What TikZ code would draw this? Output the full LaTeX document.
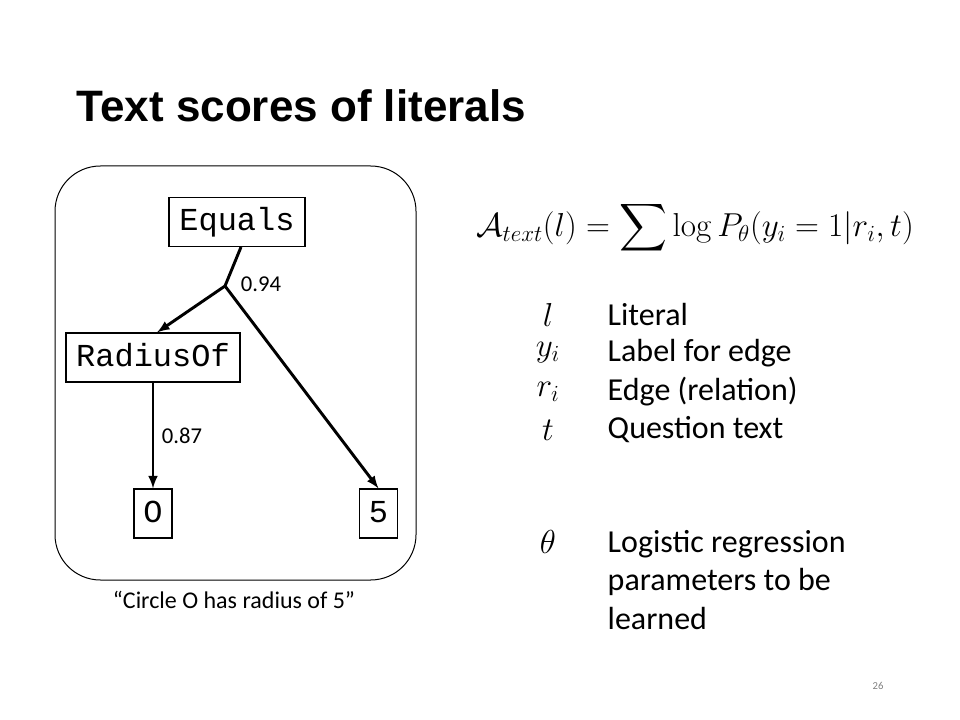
\documentclass[tikz,border=0pt]{standalone}
\usepackage{amsmath}
\usepackage[no-math]{fontspec}
\setmainfont{Carlito}
\setmonofont{Liberation Mono}
\newfontfamily\titlefont{Liberation Sans}
\usepackage{tikz}
\usepackage{xcolor}
\usetikzlibrary{positioning}
\tikzstyle{pred}=[draw, thick, inner sep=0pt, minimum height=36.75pt, text height=17pt, text depth=4pt, font=\ttfamily\fontsize{24}{28}\selectfont]
\tikzstyle{link}=[->, >=latex, line width=2.2pt]
\tikzstyle{score}=[font=\fontsize{17}{20}\selectfont]
\tikzstyle{sym}=[font=\fontsize{25}{30}\selectfont]
\tikzstyle{desc}=[anchor=west, font=\fontsize{24}{29}\selectfont]

\begin{document}
\begin{tikzpicture}[x=0.75pt, y=-0.75pt]
    \useasboundingbox (0,0) rectangle (960,720);

    \node[anchor=base west, font=\titlefont\bfseries\fontsize{33}{40}\selectfont] (title) at (72,122) {Text scores of literals};

    % parse tree
    \draw[line width=0.75pt, rounded corners=34pt] (55,166) rectangle (416,580);
    \node[pred, minimum width=102pt]  (equals)   at (237,222)   {Equals};
    \node[pred, minimum width=130.5pt] (radiusof) at (153,357.5) {RadiusOf};
    \node[pred, minimum width=28.5pt]  (circle)   at (153,513.5) {O};
    \node[pred, minimum width=29pt]    (five)     at (378.5,513.5) {5};
    \coordinate (fork) at (225,286);

    \draw[line width=2.2pt] ([xshift=3pt]equals.south) -- (fork);
    \draw[link] (fork) -- ([xshift=3pt]radiusof.north);
    \draw[link] (fork) -- (five.north);
    \draw[link] (radiusof) -- (circle);

    \node[score] (s1) at (261,284) {0.94};
    \node[score] (s2) at (182,436) {0.87};
    \node[font=\fontsize{18}{22}\selectfont] (caption) at (234,600) {“Circle O has radius of 5”};

    % score formula
    \node[font=\fontsize{25}{30}\selectfont] (formula) at (695,228)
        {$\displaystyle \mathcal{A}_{text}(l) = \sum \log P_{\theta}(y_i = 1 | r_i, t)$};

    % legend
    \node[sym]  (l)     at (548,315) {$l$};
    \node[desc] (dl)    at (603,315) {Literal};
    \node[sym]  (yi)    at (548,353) {$y_i$};
    \node[desc] (dyi)   at (603,353) {Label for edge};
    \node[sym]  (ri)    at (548,392) {$r_i$};
    \node[desc] (dri)   at (603,392) {Edge (relation)};
    \node[sym]  (t)     at (548,430) {$t$};
    \node[desc] (dt)    at (603,430) {Question text};
    \node[sym]  (theta) at (548,542) {$\theta$};
    \node[desc, align=left] (dtheta) at (603,580) {Logistic regression\\parameters to be\\learned};

    \node[text=gray, font=\fontsize{8}{10}\selectfont] (page) at (878,686) {26};
  \end{tikzpicture}
\end{document}
